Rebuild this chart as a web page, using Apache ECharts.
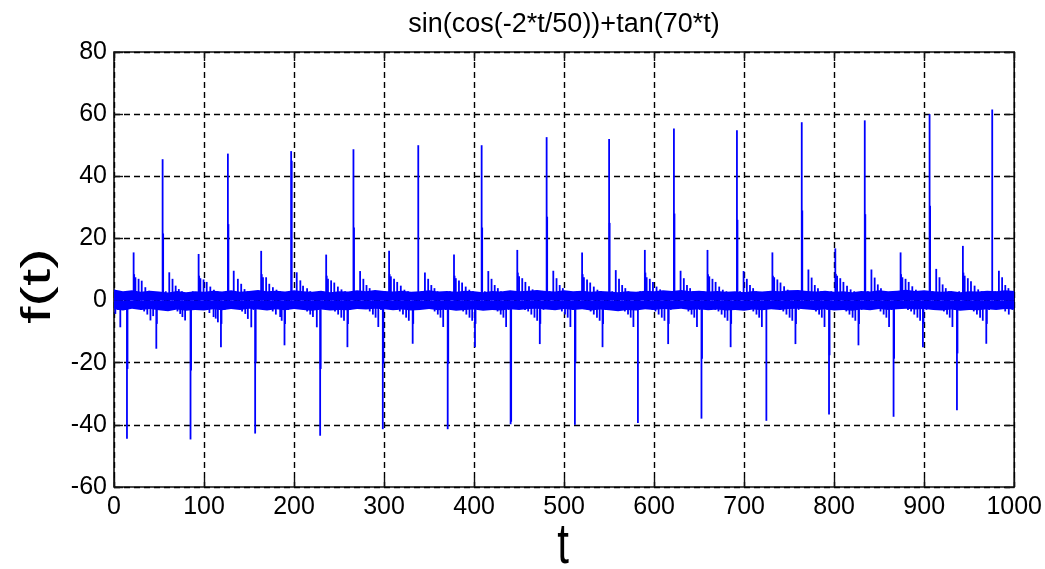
<!DOCTYPE html>
<html>
<head>
<meta charset="utf-8">
<script src="https://cdn.jsdelivr.net/npm/echarts@6/dist/echarts.min.js"></script>
<style>
html,body{margin:0;padding:0;background:#fff;}
#chart{width:1045px;height:569px;}
</style>
</head>
<body>
<div id="chart"></div>
<script>
// ---- data: [t, f(t)] ----
const xTicks = [0,100,200,300,400,500,600,700,800,900,1000];
const yTicks = [-60,-40,-20,0,20,40,60,80];

const bigPeaks = [[54,45.5],[126.5,47.3],[196.8,48.1],[266,48.7],[338,50],[408.4,50],[480.6,52.6],[550,52],[622,55.4],[692,54.8],[764,57.4],[834,58],[906,60],[975.6,61.5]];
const peakShoulders = [[54.6,21.6],[127.1,24.6],[197.4,45],[266.6,23.5],[409,23.5],[481.2,27],[550.6,25],[622.6,28],[692.6,26],[764.6,29],[834.6,27.8],[906.6,30.5]];
const bigTroughs = [[14.4,-44.5],[85,-44.7],[156.8,-42.8],[229,-43.5],[298.6,-41.4],[370.7,-41.4],[440.6,-39.8],[512,-40],[582,-39.4],[652.6,-38],[724.7,-38.7],[794.3,-36.7],[866,-37.4],[936.4,-35.3]];
const troughShoulders = [[15,-22],[85.6,-22.5],[157.4,-20],[229.6,-22],[299.2,-20.3],[371.3,-20.3],[441.2,-39],[512.6,-20],[653.2,-18.7],[794.9,-17.6],[866.6,-18.7],[937,-17]];
const midPeaks = [[21.8,15.5],[94,15],[163.5,16],[235.7,14.8],[305.6,16],[377.7,14.8],[448,16.3],[520,15.5],[589.7,16.3],[659.3,16.3],[731.4,15.5],[801.3,16.8],[873.8,15.5],[943,17.6]];
const midTroughs = [[47,-15.5],[118.8,-15],[189.4,-14.4],[259.3,-15],[331.8,-13.9],[401,-15],[473,-14],[542.7,-15],[615.6,-14],[685,-15],[757,-14],[827,-14.4],[898.6,-15],[969,-13.9]];

const smallTeeth = [
 [1.5,-4.3],[4.5,-3],[7,-8.6],[16.9,3],
 [22.4,8.5],[23.8,7.5],[27.3,7],[30.8,6.4],[34.8,4.3],[38.8,3.2],[42.8,2.7],
 [30,-3],[33.5,-3.5],[37,-4.5],[40.5,-6.4],[43.5,-5],[47.6,-7.5],[50.5,-3],
 [57.5,3],[61.4,9.1],[65,7],[68.5,4.8],[72,3.7],[75.5,3],
 [70.5,-3.5],[73.5,-4.3],[76,-5.3],[79,-6.4],[81.5,-3],[87.5,3],
 [94.6,8],[96,7.2],[99.5,6.8],[103,6],[107,4.5],[111,3.5],[115,3],
 [102.5,-3],[106,-4],[110.6,-5.3],[113,-5.8],[115.4,-7],[119.4,-7.5],[123,-3],
 [130,3],[133,9.6],[137.6,7],[141.3,5.4],[145,3.7],[148.5,3],
 [142.3,-3.5],[145.8,-4.3],[148.7,-5.9],[152.5,-8.6],[154.8,-3],[159.3,3],
 [164.1,8.5],[165.5,7.5],[169,7.5],[172.5,5.4],[176.5,4.3],[180.5,3.5],[184.5,3],
 [172.8,-3],[176.3,-3.5],[179.8,-4.5],[184.6,-5.3],[186.3,-6.5],[190,-7.5],[193.3,-3],
 [200.3,3],[203,9.1],[207,6.5],[210,4.8],[214.5,4],[218,3],
 [214.5,-3.5],[218,-4.5],[221,-5.3],[225.3,-8.6],[227,-3],[231.5,3],
 [236.3,8],[237.7,7],[241.2,6.5],[244.7,5.8],[248.7,4.5],[252.7,3.6],[256.7,3],
 [242,-3],[245.5,-3.5],[249,-4.5],[252.5,-5.5],[255.5,-6.5],[259.9,-7.5],[262.5,-3],
 [269.5,3],[273.4,9.5],[277,7],[280.5,5],[284,4],[287.5,3],
 [284.1,-3.5],[287.6,-4.5],[290.6,-5.5],[293.6,-8.5],[296.6,-3],[301.1,3],
 [306.2,8.5],[307.6,7.8],[311.1,7],[314.6,6],[318.6,4.8],[322.6,3.5],[326.6,3],
 [314,-3],[317.5,-3.5],[321,-4.5],[324.5,-5.5],[327.5,-6.5],[332.4,-7.5],[334.5,-3],
 [341.5,3],[345.4,9],[349,7],[352.5,5],[356,4],[359.5,3],
 [356.2,-3.5],[359.7,-4.5],[362.7,-5.5],[365.7,-8.5],[368.7,-3],[373.2,3],
 [378.3,8],[379.7,7.2],[383.2,6.5],[386.7,5.8],[390.7,4.5],[394.7,3.5],[398.7,3],
 [384.4,-3],[387.9,-3.5],[391.4,-4.5],[394.9,-5.5],[397.9,-6.5],[401.6,-7.5],[404.9,-3],
 [411.9,3],[415.8,9.5],[419.4,7],[422.9,5],[426.4,4],[429.9,3],
 [426.1,-3.5],[429.6,-4.5],[432.6,-5.5],[435.6,-8.5],[438.6,-3],[443.1,3],
 [448.6,9],[450,7.8],[453.5,7.2],[457,6],[461,4.6],[465,3.6],[469,3],
 [456.6,-3],[460.1,-3.5],[463.6,-4.5],[467.1,-5.5],[470.1,-6.5],[473.6,-7.5],[477.1,-3],
 [484.1,3],[488,9.6],[491.6,7.2],[495.1,5],[498.6,4],[502.1,3],
 [497.5,-3.5],[501,-4.5],[504,-5.5],[507,-8.5],[510,-3],[514.5,3],
 [520.6,8.5],[522,7.5],[525.5,6.8],[529,5.8],[533,4.5],[537,3.5],[541,3],
 [526,-3],[529.5,-3.5],[533,-4.5],[536.5,-5.5],[539.5,-6.5],[543.3,-7.5],[546.5,-3],
 [553.5,3],[557.4,9.8],[561,7],[564.5,5],[568,4],[571.5,3],
 [567.5,-3.5],[571,-4.5],[574,-5.5],[577,-8.5],[580,-3],[584.5,3],
 [590.3,9],[591.7,7.5],[595.2,7],[598.7,6],[602.7,4.5],[606.7,3.6],[610.7,3],
 [598,-3],[601.5,-3.5],[605,-4.5],[608.5,-5.5],[611.5,-6.5],[616.2,-7.5],[618.5,-3],
 [625.5,3],[629.4,9.6],[633,7.2],[636.5,5],[640,4],[643.5,3],
 [638.1,-3.5],[641.6,-4.5],[644.6,-5.5],[647.6,-8.5],[650.6,-3],[655.1,3],
 [659.9,8.5],[661.3,7.8],[664.8,7],[668.3,6],[672.3,4.5],[676.3,3.5],[680.3,3],
 [668,-3],[671.5,-3.5],[675,-4.5],[678.5,-5.5],[681.5,-6.5],[685.6,-7.5],[688.5,-3],
 [695.5,3],[699.4,9.5],[703,7],[706.5,5],[710,4],[713.5,3],
 [710.2,-3.5],[713.7,-4.5],[716.7,-5.5],[719.7,-8.5],[722.7,-3],[727.2,3],
 [732,8],[733.4,7.5],[736.9,6.8],[740.4,5.8],[744.4,4.6],[748.4,3.5],[752.4,3],
 [740,-3],[743.5,-3.5],[747,-4.5],[750.5,-5.5],[753.5,-6.5],[757.6,-7.5],[760.5,-3],
 [767.5,3],[771.4,10],[775,7.4],[778.5,5],[782,4],[785.5,3],
 [779.8,-3.5],[783.3,-4.5],[786.3,-5.5],[789.3,-8.5],[792.3,-3],[796.8,3],
 [801.9,8.6],[803.3,8],[806.8,7.2],[810.3,6],[814.3,4.8],[818.3,3.6],[822.3,3],
 [810,-3],[813.5,-3.5],[817,-4.5],[820.5,-5.5],[823.5,-6.5],[827.6,-7.5],[830.5,-3],
 [837.5,3],[841.4,10],[845,7.4],[848.5,5.2],[852,4],[855.5,3],
 [851.5,-3.5],[855,-4.5],[858,-5.5],[861,-8.5],[864,-3],[868.5,3],
 [874.4,8.5],[875.8,7.5],[879.3,7],[882.8,6],[886.8,4.6],[890.8,3.5],[894.8,3],
 [882,-3],[885.5,-3.5],[889,-4.5],[892.5,-5.5],[895.5,-6.5],[899.2,-7.5],[902.5,-3],
 [909.5,3],[913.4,10.2],[917,7.5],[920.5,5.2],[924,4],[927.5,3],
 [921.9,-3.5],[925.4,-4.5],[928.4,-5.5],[931.4,-8.5],[934.4,-3],[938.9,3],
 [943.6,9],[945,8],[948.5,7.2],[952,6.2],[956,4.8],[960,3.6],[964,3],
 [951.6,-3],[955.1,-3.5],[958.6,-4.5],[962.1,-5.5],[965.1,-6.5],[969.6,-7.5],[972.1,-3],
 [979.1,3],[983,9.6],[986.6,7.5],[990.1,5],[993.6,4],[997.1,3],
 [990,-3.5],[994,-4.5],[998,-3]
];

// dense band envelope (upper / lower edge of the solid noise band), every 10 t
const bandT = [0,10,20,30,40,50,60,70,80,90,100,110,120,130,140,150,160,170,180,190,200,210,220,230,240,250,260,270,280,290,300,310,320,330,340,350,360,370,380,390,400,410,420,430,440,450,460,470,480,490,500,510,520,530,540,550,560,570,580,590,600,610,620,630,640,650,660,670,680,690,700,710,720,730,740,750,760,770,780,790,800,810,820,830,840,850,860,870,880,890,900,910,920,930,940,950,960,970,980,990,1000];
const bandHi = [
 3.6,3.0,3.3,2.8,3.2,2.9,2.6,3.1,2.7,3.0,
 2.8,3.2,2.9,3.3,2.8,3.1,3.4,3.0,3.2,2.9,
 3.3,3.0,2.8,3.2,2.7,3.0,2.9,3.3,3.0,3.4,
 3.1,2.9,3.2,2.8,3.0,3.3,2.9,3.1,2.8,3.2,
 3.0,2.7,3.1,2.9,3.3,3.0,3.2,3.4,3.1,2.9,
 3.3,3.0,3.2,2.8,3.1,2.9,2.7,3.0,2.8,3.2,
 3.0,3.3,3.1,3.4,3.0,3.2,2.9,3.1,2.8,3.0,
 2.7,3.1,2.9,3.2,3.0,3.3,3.4,3.1,2.9,3.2,
 2.8,3.0,2.7,3.1,2.9,3.3,3.0,3.2,3.5,3.1,
 3.3,3.0,2.8,3.1,2.7,3.0,2.9,3.2,3.0,3.3,
 3.1];
const bandLo = [
 -2.8,-3.2,-2.6,-3.0,-2.7,-3.1,-3.4,-2.9,-3.3,-3.0,
 -3.2,-2.8,-3.1,-2.7,-3.0,-2.6,-2.9,-3.2,-2.8,-3.1,
 -2.7,-3.0,-3.3,-2.9,-3.2,-3.0,-3.1,-2.7,-2.9,-2.6,
 -2.8,-3.1,-2.9,-3.2,-3.0,-2.7,-3.1,-2.9,-3.3,-3.0,
 -2.9,-3.3,-3.0,-3.2,-2.8,-3.0,-2.7,-2.6,-2.9,-3.1,
 -2.7,-3.0,-2.8,-3.2,-2.9,-3.1,-3.4,-3.0,-3.2,-2.8,
 -3.0,-2.7,-2.9,-2.6,-3.0,-2.8,-3.1,-2.9,-3.2,-3.0,
 -3.3,-2.9,-3.1,-2.8,-3.0,-2.7,-2.6,-2.9,-3.1,-2.8,
 -3.2,-3.0,-3.3,-2.9,-3.1,-2.7,-3.0,-2.8,-2.6,-2.9,
 -2.7,-3.0,-3.2,-2.9,-3.3,-3.0,-3.1,-2.8,-3.0,-2.7,
 -2.9];

// ---- chart ----
const BLUE = '#0000ff';
const FONT = 'Liberation Sans, Arial, sans-serif';
const hiData = bandT.map((t, i) => [t, bandHi[i]]);
const loData = bandT.map((t, i) => [t, bandLo[i]]);
const spikeData = [].concat(bigPeaks, peakShoulders, bigTroughs, troughShoulders, midPeaks, midTroughs, smallTeeth);

const chart = echarts.init(document.getElementById('chart'), null, {renderer: 'canvas'});
const gridLine = {show: true, lineStyle: {color: '#000', width: 1.4, type: [6, 4]}};
const tickIn = {show: true, inside: true, length: 9, lineStyle: {color: '#111', width: 1.4}};
chart.setOption({
  backgroundColor: '#fff',
  animation: false,
  title: {
    text: 'sin(cos(-2*t/50))+tan(70*t)',
    left: 559, top: 6, textAlign: 'center',
    textStyle: {fontFamily: FONT, fontSize: 27, fontWeight: 'normal', color: '#000'}
  },
  graphic: [
    {type: 'text', x: 563, y: 547, scaleY: 1.35, z: 10,
     style: {text: 't', fontFamily: FONT, fontSize: 42, fill: '#000', align: 'center', verticalAlign: 'middle'}},
    {type: 'text', x: 39, y: 286, rotation: Math.PI / 2, scaleX: 1.55, z: 10,
     style: {text: 'f(t)', fontFamily: FONT, fontSize: 40, fill: '#000', align: 'center', verticalAlign: 'middle'}}
  ],
  grid: {left: 114, right: 30, top: 52, bottom: 82, show: true, borderColor: '#111', borderWidth: 1.6, backgroundColor: 'transparent'},
  xAxis: [{
    type: 'value', min: 0, max: 1000, interval: 100, position: 'bottom',
    axisLine: {show: false, onZero: false},
    axisTick: tickIn,
    axisLabel: {fontFamily: FONT, fontSize: 25, color: '#000', margin: 8, formatter: v => String(v)},
    splitLine: gridLine
  }, {
    type: 'value', min: 0, max: 1000, interval: 100, position: 'top',
    axisLine: {show: false, onZero: false}, axisTick: tickIn, axisLabel: {show: false}, splitLine: {show: false}
  }],
  yAxis: [{
    type: 'value', min: -60, max: 80, interval: 20, position: 'left',
    axisLine: {show: false, onZero: false},
    axisTick: tickIn,
    axisLabel: {fontFamily: FONT, fontSize: 25, color: '#000', margin: 7, formatter: v => String(v)},
    splitLine: gridLine
  }, {
    type: 'value', min: -60, max: 80, interval: 20, position: 'right',
    axisLine: {show: false, onZero: false}, axisTick: tickIn, axisLabel: {show: false}, splitLine: {show: false}
  }],
  series: [
    {type: 'line', data: hiData, showSymbol: false, symbol: 'none', lineStyle: {width: 0}, areaStyle: {color: BLUE, opacity: 1, origin: 0}, z: 2},
    {type: 'line', data: loData, showSymbol: false, symbol: 'none', lineStyle: {width: 0}, areaStyle: {color: BLUE, opacity: 1, origin: 0}, z: 2},
    {type: 'bar', data: spikeData, barWidth: 1.8, itemStyle: {color: BLUE}, z: 3}
  ]
});
</script>
</body>
</html>
